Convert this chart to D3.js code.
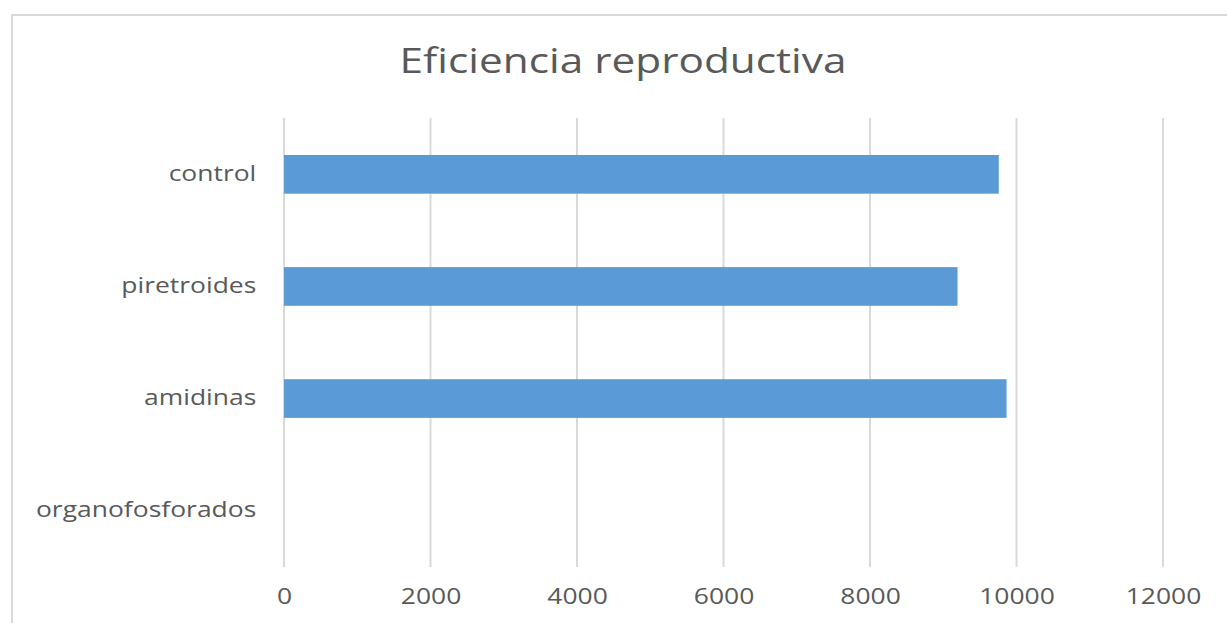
<!DOCTYPE html>
<html>
<head>
<meta charset="utf-8">
<script src="https://cdn.jsdelivr.net/npm/d3@7"></script>
<style>
  body { margin: 0; background: #fff; }
  text { font-family: "Open Sans", sans-serif; fill: #595959; }
</style>
</head>
<body>
<div id="chart-area"></div>
<script>
// data
var categories = ["control", "piretroides", "amidinas", "organofosforados"];
var values = [9758, 9195, 9864, 0];
var xTicks = [0, 2000, 4000, 6000, 8000, 10000, 12000];
var title = "Eficiencia reproductiva";

var W = 1227, H = 623;
var margin = {top: 118, right: 64, bottom: 56, left: 284},
    width = W - margin.left - margin.right,
    height = H - margin.top - margin.bottom;

// the original text is drawn wide, so stretch it a bit
var stretch = 1.26;

var svg = d3.select("#chart-area")
  .append("svg")
    .attr("width", W)
    .attr("height", H);

// chart frame
svg.append("rect")
    .attr("x", 12)
    .attr("y", 15)
    .attr("width", W + 20)
    .attr("height", H + 20)
    .attr("fill", "none")
    .attr("stroke", "#d9d9d9")
    .attr("stroke-width", 2);

svg.append("text")
    .attr("transform", "translate(623,73) scale(1.21,1)")
    .attr("text-anchor", "middle")
    .attr("font-size", "35px")
    .text(title);

var g = svg.append("g")
    .attr("transform", "translate(" + margin.left + "," + margin.top + ")");

var x = d3.scaleLinear()
    .domain([0, 12000])
    .range([0, width]);

var y = d3.scaleBand()
    .domain(categories)
    .range([0, height])
    .paddingInner(0.655)
    .paddingOuter(0.33);

// gridlines
g.append("g")
  .selectAll("line")
  .data(xTicks)
  .enter()
  .append("line")
    .attr("x1", function(d) { return x(d); })
    .attr("x2", function(d) { return x(d); })
    .attr("y1", 0)
    .attr("y2", height)
    .attr("stroke", "#d9d9d9")
    .attr("stroke-width", 2);

// bars
g.append("g")
  .selectAll("rect")
  .data(values)
  .enter()
  .append("rect")
    .attr("x", x(0))
    .attr("y", function(d, i) { return y(categories[i]); })
    .attr("width", function(d) { return x(d) - x(0); })
    .attr("height", y.bandwidth())
    .attr("fill", "#5b9bd5");

// x axis labels
var xAxis = g.append("g")
    .attr("transform", "translate(0," + height + ")")
    .call(d3.axisBottom(x).tickValues(xTicks).tickSize(0).tickPadding(22).tickFormat(d3.format("d")));
xAxis.select(".domain").remove();
xAxis.selectAll("text")
    .attr("font-size", "21px")
    .attr("transform", "scale(" + stretch + ",1)")
    .style("font-family", "'Open Sans', sans-serif")
    .attr("fill", "#595959");

// y axis labels
var yAxis = g.append("g")
    .call(d3.axisLeft(y).tickSize(0).tickPadding(22));
yAxis.select(".domain").remove();
yAxis.selectAll("text")
    .attr("font-size", "21px")
    .attr("transform", "scale(" + stretch + ",1)")
    .style("font-family", "'Open Sans', sans-serif")
    .attr("fill", "#595959");
</script>
</body>
</html>
